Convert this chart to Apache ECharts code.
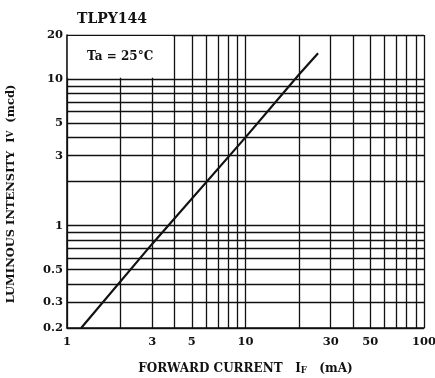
<!DOCTYPE html>
<html><head><meta charset="utf-8">
<script src="https://cdn.jsdelivr.net/npm/echarts@6/dist/echarts.min.js"></script>
<style>html,body{margin:0;padding:0;background:#fff}#c{width:435px;height:378px}</style>
</head><body><div id="c"></div>
<script>
// Data
const currentMA = [1.2, 3, 10, 20, 25.5];
const intensityMcd = [0.2, 0.75, 4.0, 10.8, 15.0];
const xGridValues = [1,2,3,4,5,6,7,8,9,10,20,30,40,50,60,70,80,90,100];
const xTickLabels = [1,3,5,10,30,50,100];
const yGridValues = [0.2,0.3,0.4,0.5,0.6,0.7,0.8,0.9,1,2,3,4,5,6,7,8,9,10,20];
const yTickLabels = [0.2,0.3,0.5,1,3,5,10,20];
const noteBox = [[1.01, 10.2], [3.9, 19.7]];
const noteText = 'Ta = 25°C';
const titleText = 'TLPY144';

const serif = '"DejaVu Serif", "Liberation Serif", serif';
const chart = echarts.init(document.getElementById('c'));
chart.setOption({
  animation: false,
  backgroundColor: '#fff',
  title: {
    text: titleText, left: 72, top: 7,
    textStyle: {fontFamily: serif, fontWeight: 'bold', fontSize: 14, color: '#111'}
  },
  grid: {left: 67, right: 11, top: 35, bottom: 50, outerBoundsMode: 'none', containLabel: false},
  xAxis: {
    type: 'log', logBase: 10, min: 1, max: 100,
    name: 'FORWARD CURRENT   {i|I}{s|F}   (mA)',
    nameLocation: 'middle', nameGap: 34,
    nameTextStyle: {fontFamily: serif, fontWeight: 'bold', fontSize: 12, color: '#111',
      rich: {i: {fontFamily: serif, fontWeight: 'bold', fontSize: 12, color: '#111'},
             s: {fontFamily: serif, fontWeight: 'bold', fontSize: 8.5, color: '#111', verticalAlign: 'bottom', padding: [4,0,0,0]}}},
    axisLine: {show: true, lineStyle: {color: '#111', width: 1.6}},
    axisTick: {show: false, customValues: xGridValues},
    axisLabel: {customValues: xTickLabels, fontFamily: serif, fontWeight: 'bold', fontSize: 11.5, color: '#111', margin: 8},
    splitLine: {show: true, lineStyle: {color: '#111', width: 1.3}},
    minorSplitLine: {show: false}
  },
  yAxis: {
    type: 'log', logBase: 10, min: 0.2, max: 20,
    name: 'LUMINOUS INTENSITY  {i|I}{s|V}  (mcd)',
    nameLocation: 'middle', nameGap: 50, nameRotate: 90,
    nameTextStyle: {fontFamily: serif, fontWeight: 'bold', fontSize: 11.5, color: '#111', padding: [0, 25, 0, 0],
      rich: {i: {fontFamily: serif, fontWeight: 'bold', fontSize: 11.5, color: '#111'},
             s: {fontFamily: serif, fontWeight: 'bold', fontSize: 8.5, color: '#111'}}},
    axisLine: {show: true, lineStyle: {color: '#111', width: 1.6}},
    axisTick: {show: false, customValues: yGridValues},
    axisLabel: {customValues: yTickLabels, fontFamily: serif, fontWeight: 'bold', fontSize: 11.5, color: '#111', margin: 4},
    splitLine: {show: true, lineStyle: {color: '#111', width: 1.3}}
  },
  series: [{
    type: 'line',
    data: currentMA.map((x, i) => [x, intensityMcd[i]]),
    showSymbol: false,
    lineStyle: {color: '#111', width: 2.2},
    z: 5,
    markArea: {
      silent: true,
      itemStyle: {color: '#fff', opacity: 1},
      label: {show: true, position: 'inside', formatter: noteText,
        fontFamily: serif, fontWeight: 'bold', fontSize: 12, color: '#111'},
      data: [[{coord: noteBox[0]}, {coord: noteBox[1]}]]
    }
  }]
});
</script></body></html>
